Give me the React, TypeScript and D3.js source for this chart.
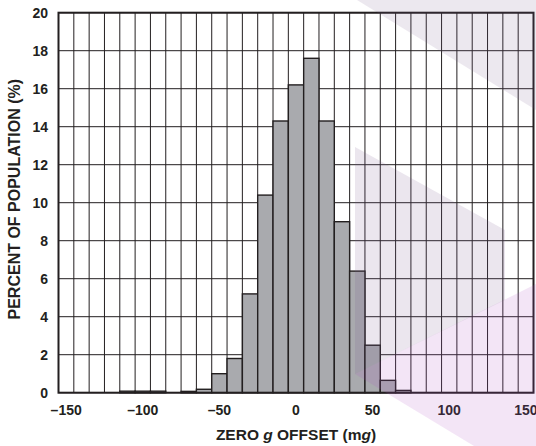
import * as d3 from "d3";
import React from "react";

// histogram bins (mg) and share of population (%) per bin
const categories = [
  -150, -140, -130, -120, -110, -100, -90, -80, -70, -60, -50, -40, -30, -20, -10, 0,
  10, 20, 30, 40, 50, 60, 70, 80, 90, 100, 110, 120, 130, 140, 150,
];
const percent = [
  0, 0, 0, 0, 0.08, 0.08, 0.08, 0, 0.07, 0.18, 1.0, 1.8, 5.2, 10.4, 14.3, 16.2,
  17.6, 14.3, 9.0, 6.4, 2.5, 0.65, 0.12, 0, 0, 0, 0, 0, 0, 0, 0,
];
const xTickLabels = [-150, -100, -50, 0, 50, 100, 150];
const yTicks = [0, 2, 4, 6, 8, 10, 12, 14, 16, 18, 20];

// faint logo watermark sitting over the page
const watermark = [
  { fill: "#7a5a8f", opacity: 0.14, points: [[357, 0], [536, 0], [536, 110]] },
  { fill: "#7a5a8f", opacity: 0.15, points: [[355, 147], [505, 230], [505, 300], [355, 374]] },
  { fill: "#b050c0", opacity: 0.15, points: [[355, 374], [536, 284], [536, 446], [474, 446]] },
];

const ink = "#231f20";
const font = "'Liberation Sans', Arial, Helvetica, sans-serif";

export default function App(): React.ReactElement {
  const width = 536;
  const height = 446;
  const margin = { bottom: 53.3, left: 58.5, right: 2.5, top: 12.7 };
  const innerW = width - margin.left - margin.right;
  const innerH = height - margin.top - margin.bottom;

  const x = d3
    .scaleBand<number>()
    .domain(categories)
    .range([0, innerW])
    .paddingInner(0)
    .paddingOuter(0);
  const y = d3.scaleLinear().domain([0, 20]).range([innerH, 0]);

  const fmt = (t: number) => (t < 0 ? `\u2013${-t}` : `${t}`);

  return (
    <svg
      height={height}
      style={{ left: 0, position: "absolute", top: 0 }}
      width={width}
    >
      <rect fill="#fff" height={height} width={width} />
      <g transform={`translate(${margin.left},${margin.top})`}>
        {/* grid */}
        {categories.slice(1).map((c) => (
          <line
            key={`vx-${c}`}
            stroke={ink}
            strokeWidth={1}
            x1={x(c)}
            x2={x(c)}
            y1={0}
            y2={innerH}
          />
        ))}
        {yTicks.map((t) => (
          <line
            key={`hy-${t}`}
            stroke={ink}
            strokeWidth={1}
            x1={0}
            x2={innerW}
            y1={y(t)}
            y2={y(t)}
          />
        ))}

        {/* bars */}
        {categories.map((c, i) =>
          percent[i] > 0 ? (
            <rect
              fill="#a9aaae"
              height={innerH - y(percent[i])}
              key={`b-${c}`}
              stroke={ink}
              strokeWidth={1.4}
              width={x.bandwidth()}
              x={x(c)}
              y={y(percent[i])}
            />
          ) : null
        )}

        <rect
          fill="none"
          height={innerH}
          stroke={ink}
          strokeWidth={2}
          width={innerW}
        />

        {/* y tick labels */}
        {yTicks.map((t) => (
          <text
            dy="0.36em"
            fill={ink}
            fontFamily={font}
            fontSize={14}
            fontWeight="bold"
            key={`yl-${t}`}
            textAnchor="end"
            x={-10.5}
            y={y(t)}
          >
            {t}
          </text>
        ))}

        {/* x tick labels */}
        {xTickLabels.map((t) => (
          <text
            fill={ink}
            fontFamily={font}
            fontSize={14}
            fontWeight="bold"
            key={`xl-${t}`}
            textAnchor="middle"
            x={(x(t) ?? 0) + x.bandwidth() / 2}
            y={innerH + 22}
          >
            {fmt(t)}
          </text>
        ))}

        {/* axis titles */}
        <text
          fill={ink}
          fontFamily={font}
          fontSize={15.5}
          fontWeight="bold"
          textAnchor="middle"
          x={innerW / 2}
          y={innerH + 47}
        >
          ZERO <tspan fontStyle="italic">g</tspan> OFFSET (m
          <tspan fontStyle="italic">g</tspan>)
        </text>
        <text
          fill={ink}
          fontFamily={font}
          fontSize={16}
          fontWeight="bold"
          textAnchor="middle"
          transform={`translate(${-margin.left + 19.5},${innerH / 2 - 3.5}) rotate(-90)`}
        >
          PERCENT OF POPULATION (%)
        </text>
      </g>

      {watermark.map((w, i) => (
        <polygon
          fill={w.fill}
          fillOpacity={w.opacity}
          key={`wm-${i}`}
          points={w.points.map((p) => p.join(",")).join(" ")}
        />
      ))}
    </svg>
  );
}
